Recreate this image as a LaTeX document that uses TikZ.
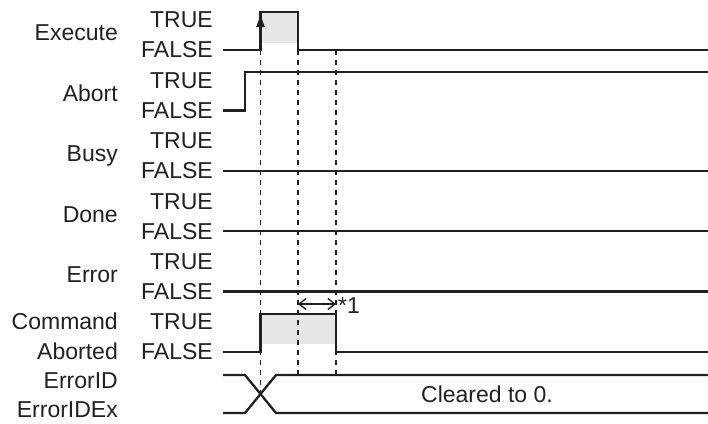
\documentclass[tikz,border=0pt]{standalone}
\usepackage{fontspec}
\setmainfont{Liberation Sans}
\usepackage{tikz}
\usetikzlibrary{arrows.meta,positioning}
\definecolor{mycshade}{HTML}{E6E7E8}
\definecolor{mycline}{HTML}{231F20}

\begin{document}
\begin{tikzpicture}[
 x=1pt,y=-1pt,
 every node/.style={font=\fontsize{23}{27}\selectfont,text=mycline,inner sep=0pt},
 nm/.style={anchor=east,text depth=0pt},
 lv/.style={anchor=east},
 sig/.style={line width=2.3pt,draw=mycline},
 gd/.style={line width=1.3pt,draw=mycline,dash pattern=on 5pt off 5pt},
 sh/.style={fill=mycshade}
]
\useasboundingbox (0,0) rectangle (708,423);
% signal names and levels
\foreach \lab/\y [count=\i] in {Execute/50,Abort/110.4,Busy/170.8,Done/231.2,Error/291.6}{
 \node[nm] (n\i) at (118,\y-17) {\lab};
 \node[lv] (t\i) at (213,\y-30) {TRUE};
 \node[lv] (f\i) at (213,\y) {FALSE};
}
\node[nm] (n6) at (118,321) {Command};
\node[nm] (n6b) at (118,351) {Aborted};
\node[lv] (t6) at (213,322) {TRUE};
\node[lv] (f6) at (213,352) {FALSE};
\node[nm] (n7) at (118,381) {ErrorID};
\node[nm] (n7b) at (118,410) {ErrorIDEx};
% shaded pulses
\fill[sh] (260.5,43) rectangle (298,12);
\fill[sh] (260.5,344) rectangle (336,314);
% timing guides
\draw[gd] (260.5,50) -- (260.5,394);
\draw[gd] (298,50) -- (298,375);
\draw[gd] (336,50) -- (336,375);
% waveforms
\draw[sig] ([xshift=10pt]f1.east) -- (260.5,50) -- (260.5,12) -- (298,12) -- (298,50) -- (708,50);
\draw[-{Latex[length=15pt,width=9pt]},line width=2.3pt,draw=mycline,fill=mycline] (260.5,50) -- (260.5,12);
\draw[sig] ([xshift=10pt]f2.east) -- (245,110.4) -- (245,72) -- (708,72);
\draw[sig] ([xshift=10pt]f3.east) -- (708,170.8);
\draw[sig] ([xshift=10pt]f4.east) -- (708,231.2);
\draw[sig] ([xshift=10pt]f5.east) -- (708,291.6);
\draw[sig] ([xshift=10pt]f6.east) -- (260.5,352) -- (260.5,314) -- (336,314) -- (336,352) -- (708,352);
\draw[sig] (223,375) -- (245,375) -- (276,413) -- (708,413);
\draw[sig] (223,413) -- (245,413) -- (276,375) -- (708,375);
% delay marker
\draw[{Straight Barb[length=7pt,width=11pt]}-{Straight Barb[length=7pt,width=11pt]},line width=1.4pt,draw=mycline] (298,304) -- (336,304);
\node[anchor=west] (d1) at (338,306) {*1};
\node (clr) at (487,394) {Cleared to 0.};
\end{tikzpicture}
\end{document}
